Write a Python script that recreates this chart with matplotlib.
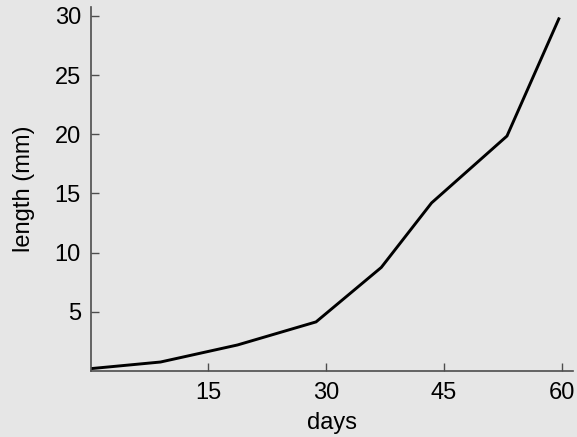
import matplotlib.pyplot as plt

days = [0, 8.9, 18.7, 28.7, 37.0, 43.4, 53.0, 59.6]
length_mm = [0.2, 0.76, 2.2, 4.15, 8.75, 14.2, 19.85, 29.75]
x_ticks = [15, 30, 45, 60]
y_ticks = [5, 10, 15, 20, 25, 30]

bg = "#e6e6e6"
plt.rcParams["font.family"] = ["Liberation Sans", "DejaVu Sans"]

fig = plt.figure(figsize=(5.77, 4.37), dpi=100, facecolor=bg)
ax = fig.add_axes([0.157, 0.151, 0.836, 0.833], facecolor=bg)

ax.plot(days, length_mm, color="black", linewidth=2.1, solid_joinstyle="miter")

ax.set_xlim(0, 61.4)
ax.set_ylim(0, 30.75)
ax.set_xticks(x_ticks)
ax.set_yticks(y_ticks)

for side in ("top", "right"):
    ax.spines[side].set_visible(False)
for side in ("left", "bottom"):
    ax.spines[side].set_color("#4d4d4d")
    ax.spines[side].set_linewidth(1.2)

ax.tick_params(direction="in", length=6, width=1, color="#4d4d4d",
               labelsize=17, pad=7)
ax.tick_params(axis="x", pad=8)
ax.set_xlabel("days", fontsize=17, labelpad=6)
ax.set_ylabel("length (mm)", fontsize=17, labelpad=14)

fig.savefig("out.png", dpi=100, facecolor=bg)
